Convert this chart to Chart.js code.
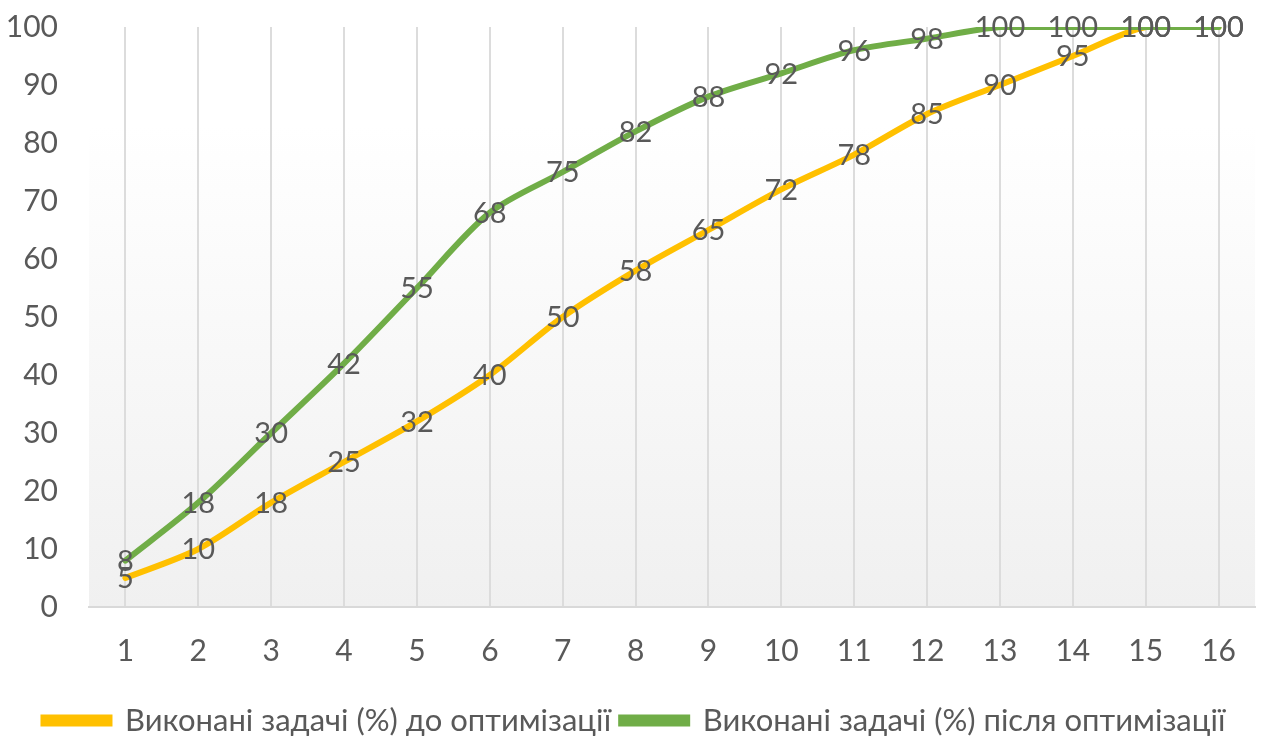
<!DOCTYPE html>
<html>
<head>
<meta charset="utf-8">
<script src="https://cdn.jsdelivr.net/npm/chart.js@4/dist/chart.umd.min.js"></script>
<style>
  html, body { margin: 0; padding: 0; background: #fff; }
  #wrap { width: 1262px; height: 737px; }
</style>
</head>
<body>
<div id="wrap"><canvas id="lineChart" width="1262" height="737"></canvas></div>
<script>
var categories = ["1","2","3","4","5","6","7","8","9","10","11","12","13","14","15","16"];
var beforeOpt = [5, 10, 18, 25, 32, 40, 50, 58, 65, 72, 78, 85, 90, 95, 100, 100];
var afterOpt = [8, 18, 30, 42, 55, 68, 75, 82, 88, 92, 96, 98, 100, 100, 100, 100];
var seriesNames = ["Виконані задачі (%) до оптимізації", "Виконані задачі (%) після оптимізації"];

var fontName = "Lato, 'Open Sans', sans-serif";
var textColor = "#595959";

// plot area background, white on top fading to light gray
var bgPlugin = {
  id: "plotBg",
  beforeDraw: function(chart) {
    var ctx = chart.ctx, a = chart.chartArea;
    var g = ctx.createLinearGradient(0, a.top, 0, a.bottom);
    g.addColorStop(0, "#ffffff");
    g.addColorStop(0.17, "#ffffff");
    g.addColorStop(1, "#f0f0f0");
    ctx.save();
    ctx.fillStyle = g;
    ctx.fillRect(a.left, a.top, a.right - a.left, a.bottom - a.top);
    ctx.restore();
  }
};

// value labels centred on each point
var labelPlugin = {
  id: "pointLabels",
  afterDatasetsDraw: function(chart) {
    var ctx = chart.ctx;
    ctx.save();
    ctx.font = "29px " + fontName;
    ctx.fillStyle = textColor;
    ctx.textAlign = "center";
    ctx.textBaseline = "middle";
    chart.data.datasets.forEach(function(ds, i) {
      var meta = chart.getDatasetMeta(i);
      meta.data.forEach(function(pt, j) {
        ctx.fillText(ds.data[j], pt.x, pt.y + 1);
      });
    });
    ctx.restore();
  }
};

var ctx = document.getElementById("lineChart").getContext("2d");
var chart = new Chart(ctx, {
  type: "line",
  data: {
    labels: categories,
    datasets: [{
      label: seriesNames[0],
      data: beforeOpt,
      borderColor: "#FFC000",
      backgroundColor: "#FFC000",
      borderWidth: 6,
      pointRadius: 0,
      tension: 0.3,
      borderCapStyle: "round",
      order: 2
    }, {
      label: seriesNames[1],
      data: afterOpt,
      borderColor: "#70AD47",
      backgroundColor: "#70AD47",
      borderWidth: 6,
      pointRadius: 0,
      tension: 0.3,
      borderCapStyle: "round",
      order: 1
    }]
  },
  options: {
    responsive: false,
    animation: false,
    layout: { padding: { top: 27, right: -7, left: 0, bottom: -9 } },
    plugins: {
      tooltip: { enabled: false },
      legend: {
        position: "bottom",
        labels: {
          color: textColor,
          font: { family: fontName, size: 31 },
          boxWidth: 66,
          boxHeight: 6,
          padding: 10,
          sort: function(a, b) { return a.datasetIndex - b.datasetIndex; }
        }
      }
    },
    scales: {
      x: {
        offset: true,
        grid: { display: true, offset: false, color: "#dcdcdc", lineWidth: 2, drawTicks: false },
        border: { display: true, color: "#d9d9d9", width: 2 },
        ticks: { color: textColor, font: { family: fontName, size: 30 }, padding: 26 }
      },
      y: {
        min: 0,
        max: 100,
        afterFit: function(scale) { scale.width = 89; },
        ticks: { stepSize: 10, color: textColor, font: { family: fontName, size: 30 }, padding: 0 },
        grid: { display: false, drawTicks: true, tickLength: 31 },
        border: { display: false }
      }
    }
  },
  plugins: [bgPlugin, labelPlugin]
});
</script>
</body>
</html>
